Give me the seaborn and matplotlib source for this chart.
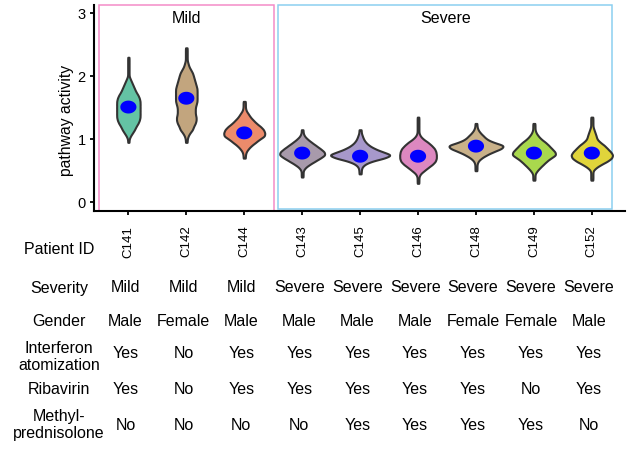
import numpy as np
import pandas as pd
import matplotlib
matplotlib.use("Agg")
import matplotlib.pyplot as plt
import matplotlib.transforms as mtransforms
from matplotlib.patches import Rectangle
import seaborn as sns

# patients in plotting order
patients = ["C141", "C142", "C144", "C143", "C145", "C146", "C148", "C149", "C152"]
severity = ["Mild", "Mild", "Mild", "Severe", "Severe", "Severe", "Severe", "Severe", "Severe"]
gender = ["Male", "Female", "Male", "Male", "Male", "Male", "Female", "Female", "Male"]
interferon = ["Yes", "No", "Yes", "Yes", "Yes", "Yes", "Yes", "Yes", "Yes"]
ribavirin = ["Yes", "No", "Yes", "Yes", "Yes", "Yes", "Yes", "No", "Yes"]
methyl = ["No", "No", "No", "No", "Yes", "Yes", "Yes", "Yes", "No"]
colors = ["#64c3a4", "#c2a57e", "#ec8b6b", "#a89aab", "#a798cb",
          "#dd88c0", "#c9b189", "#a9d84d", "#e0d43b"]
medians = [1.51, 1.65, 1.10, 0.78, 0.73, 0.73, 0.89, 0.78, 0.78]

# estimated number of cells per patient (violin width ~ cell count)
n_cells = {"C141": 240, "C142": 220, "C144": 410, "C143": 450, "C145": 590,
           "C146": 370, "C148": 540, "C149": 430, "C152": 410}

# relative density profile per patient
# (lowest bin value, then values in 0.05 steps upward)
bin_step = 0.05
bin_start = {"C141": 0.95, "C142": 0.95, "C144": 0.70, "C143": 0.40, "C145": 0.45,
             "C146": 0.30, "C148": 0.50, "C149": 0.35, "C152": 0.35}
profile = {
    "C141": [2, 2, 4, 8, 12, 16, 20, 23, 24, 24, 24, 24, 24, 24, 22, 19,
             16, 13, 10, 7, 4, 2, 2, 2, 2, 2, 2, 2],
    "C142": [2, 2, 4, 8, 12, 15, 18, 20, 20, 18, 17, 18, 20, 22, 22, 22,
             22, 21, 20, 18, 16, 14, 12, 9, 6, 4, 2, 2, 2, 2, 2],
    "C144": [2, 2, 4, 8, 14, 22, 30, 40, 40, 38, 32, 24, 18, 12, 8, 4, 2, 2, 2],
    "C143": [2, 2, 2, 6, 14, 24, 34, 44, 42, 34, 26, 18, 10, 4, 2, 2],
    "C145": [2, 2, 3, 8, 20, 44, 58, 40, 26, 16, 10, 6, 4, 2, 2],
    "C146": [2, 2, 2, 4, 12, 20, 28, 34, 36, 36, 35, 32, 26, 20, 10, 4,
             2, 2, 2, 2, 2, 2],
    "C148": [2, 2, 2, 4, 10, 20, 32, 48, 54, 32, 20, 14, 8, 4, 2, 2],
    "C149": [2, 2, 2, 6, 12, 18, 24, 32, 42, 40, 34, 28, 22, 14, 8, 4, 2, 2, 2],
    "C152": [2, 2, 2, 2, 8, 18, 30, 38, 40, 36, 30, 24, 16, 10, 8, 6,
             4, 2, 2, 2, 2],
}

records = []
for p in patients:
    prof = np.array(profile[p], dtype=float)
    counts = np.maximum(np.round(prof / prof.sum() * n_cells[p]), 1).astype(int)
    for k, c in enumerate(counts):
        records += [(p, round(bin_start[p] + k * bin_step, 3))] * c
df = pd.DataFrame(records, columns=["patient", "activity"])

# same kernel width (in data units) for every violin
KDE_BW = 0.03
def fixed_bw(kde):
    return KDE_BW / kde.dataset.std(ddof=1)

sns.set_style("ticks")
plt.rcParams["font.family"] = ["Liberation Sans", "DejaVu Sans"]
plt.rcParams["text.color"] = "black"
plt.rcParams["axes.labelcolor"] = "black"
plt.rcParams["xtick.color"] = "black"
plt.rcParams["ytick.color"] = "black"

fig = plt.figure(figsize=(6.28, 4.5), dpi=100)
ax = fig.add_axes([0.150, 0.531, 0.845, 0.458])

# group frames
ax.add_patch(Rectangle((-0.5, -0.14), 3.02, 3.27, fill=False,
                       edgecolor="#f48cc8", linewidth=1.1, clip_on=False, zorder=0))
ax.add_patch(Rectangle((2.59, -0.10), 5.75, 3.23, fill=False,
                       edgecolor="#8ccff0", linewidth=1.1, clip_on=False, zorder=0))

sns.violinplot(data=df, x="patient", y="activity", order=patients,
               hue="patient", palette=dict(zip(patients, colors)), legend=False,
               cut=0, inner=None, density_norm="count", common_norm=True,
               width=1.02, bw_method=fixed_bw, linewidth=1.5,
               linecolor="#333333", saturation=1, ax=ax)

t = np.linspace(0, 2 * np.pi, 60)
ellipse = np.column_stack([np.cos(t), 0.8 * np.sin(t)])
ax.scatter(range(len(patients)), medians, marker=ellipse, s=135,
           color="blue", edgecolor="none", zorder=4)

ax.text(1.0, 2.92, "Mild", ha="center", va="center", fontsize=11.5)
ax.text(5.47, 2.92, "Severe", ha="center", va="center", fontsize=11.5)

ax.set_xlim(-0.59, 8.57)
ax.set_ylim(-0.14, 3.13)
ax.set_yticks([0, 1, 2, 3])
ax.set_xlabel("")
ax.set_ylabel("pathway activity", fontsize=11.3)
ax.yaxis.set_label_coords(-0.039, 0.44)
sns.despine(ax=ax)
for s in ["left", "bottom"]:
    ax.spines[s].set_linewidth(1.5)
    ax.spines[s].set_color("black")
ax.tick_params(axis="x", rotation=90, labelsize=9.5, length=3, width=1.3, pad=7.5)
ax.tick_params(axis="y", labelsize=10.5, length=3, width=1.3, pad=3)

# annotation table below the plot
H = 450.0
trans = mtransforms.blended_transform_factory(ax.transData, fig.transFigure)
fig.text(59 / 628, 1 - 249 / H, "Patient ID", ha="center", va="center", fontsize=11.5)
rows = [
    ("Severity", severity, 288, 288),
    ("Gender", gender, 321, 321),
    ("Interferon\natomization", interferon, 357, 354),
    ("Ribavirin", ribavirin, 390, 390),
    ("Methyl-\nprednisolone", methyl, 425, 425),
]
for label, values, ly, vy in rows:
    fig.text(59 / 628, 1 - ly / H, label, ha="center", va="center",
             fontsize=11.5, linespacing=1.15)
    for i, v in enumerate(values):
        ax.text(i - 0.05, 1 - vy / H, v, transform=trans, ha="center", va="center",
                fontsize=11.5, clip_on=False)

fig.savefig("out.png", dpi=100)
